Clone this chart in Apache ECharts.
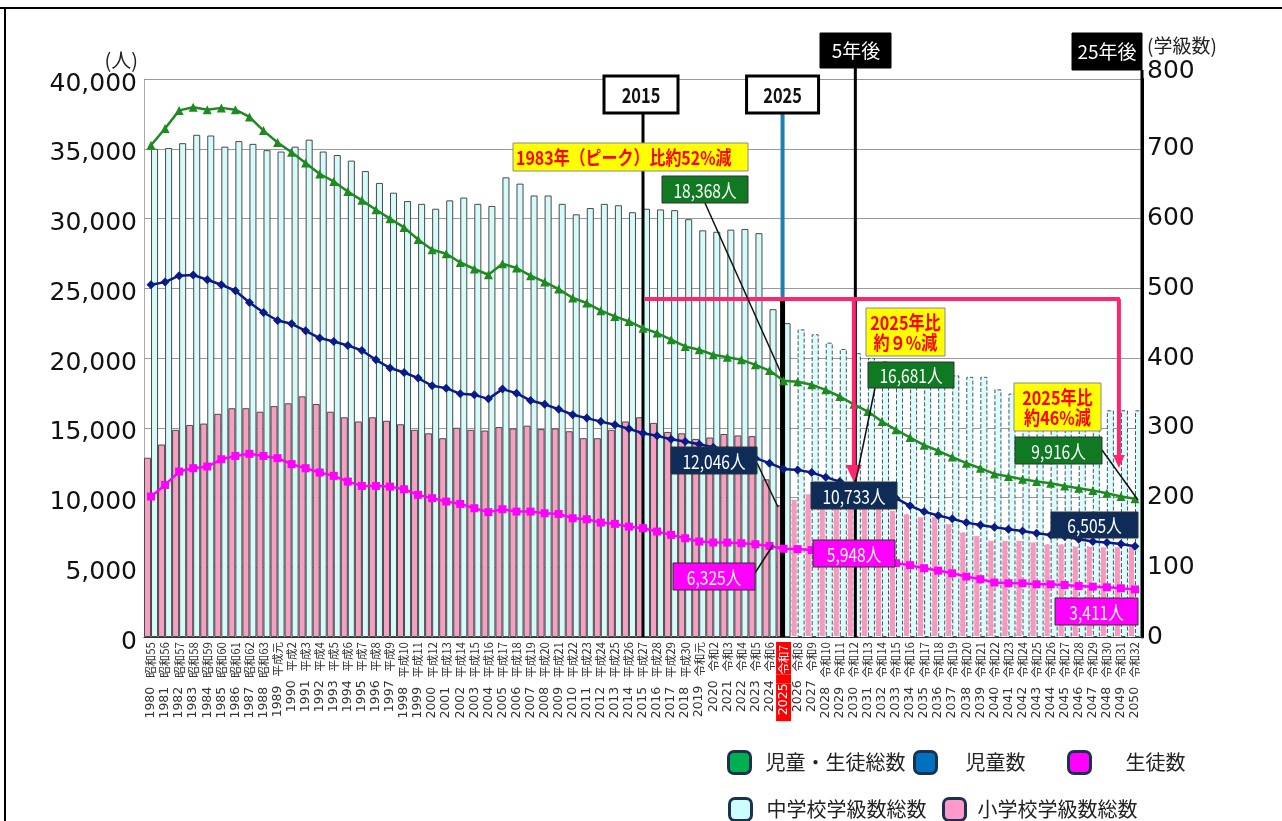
<!DOCTYPE html>
<html><head><meta charset="utf-8">
<script src="https://cdn.jsdelivr.net/npm/echarts@6/dist/echarts.min.js"></script>
<style>html,body{margin:0;padding:0;background:#fff}#c{width:1282px;height:821px}</style>
</head><body><div id="c"></div>
<script>
const years = ['1980','1981','1982','1983','1984','1985','1986','1987','1988','1989',
'1990','1991','1992','1993','1994','1995','1996','1997','1998','1999',
'2000','2001','2002','2003','2004','2005','2006','2007','2008','2009',
'2010','2011','2012','2013','2014','2015','2016','2017','2018','2019',
'2020','2021','2022','2023','2024','2025','2026','2027','2028','2029',
'2030','2031','2032','2033','2034','2035','2036','2037','2038','2039',
'2040','2041','2042','2043','2044','2045','2046','2047','2048','2049','2050'];
const eras = ['昭和55','昭和56','昭和57','昭和58','昭和59','昭和60','昭和61','昭和62','昭和63','平成元',
'平成2','平成3','平成4','平成5','平成6','平成7','平成8','平成9','平成10','平成11',
'平成12','平成13','平成14','平成15','平成16','平成17','平成18','平成19','平成20','平成21',
'平成22','平成23','平成24','平成25','平成26','平成27','平成28','平成29','平成30','令和元',
'令和2','令和3','令和4','令和5','令和6','令和7','令和8','令和9','令和10','令和11',
'令和12','令和13','令和14','令和15','令和16','令和17','令和18','令和19','令和20','令和21',
'令和22','令和23','令和24','令和25','令和26','令和27','令和28','令和29','令和30','令和31','令和32'];
// 児童・生徒総数
const totalStudents = [35250,36450,37750,37970,37800,37930,37800,37280,36300,35450,
34750,33980,33190,32660,31940,31300,30630,29990,29360,28500,
27760,27470,26850,26380,25970,26760,26450,25900,25450,24940,
24300,23940,23390,22980,22620,22140,21790,21310,20830,20590,
20230,20060,19870,19510,19100,18368,18300,18080,17720,17240,
16681,16160,15450,14850,14300,13750,13350,12900,12460,12100,
11690,11500,11310,11140,11020,10830,10660,10500,10310,10070,9916];
// 児童数
const elemStudents = [25250,25440,25900,25950,25610,25250,24820,23980,23260,22690,
22450,21950,21430,21180,20900,20540,19870,19280,18960,18560,
18010,17840,17430,17360,17070,17770,17480,16950,16680,16330,
15930,15690,15440,15210,14920,14610,14420,14180,14010,13820,
13600,13410,13180,12820,12460,12046,11980,11790,11460,11140,
10733,10590,10350,9950,9400,8990,8710,8470,8200,8030,
7870,7720,7600,7440,7320,7200,7010,6840,6770,6670,6505];
// 生徒数
const juniorStudents = [10070,10900,11860,12100,12220,12740,12980,13130,12980,12820,
12390,12100,11790,11550,11140,10830,10830,10780,10590,10190,
9950,9710,9540,9230,8950,9160,8990,8990,8870,8820,
8510,8440,8200,8110,7910,7800,7560,7320,7080,6840,
6770,6770,6720,6650,6530,6325,6300,6230,6140,6050,
5948,5720,5500,5290,5150,4930,4760,4570,4330,4140,
3900,3850,3850,3780,3780,3730,3660,3610,3560,3490,3411];
// 中学校学級数総数 (cyan bars)
const juniorClasses = [700,701,708,720,719,703,711,707,698,696,
703,713,696,691,683,668,651,637,625,621,
614,626,630,621,618,659,650,633,633,621,
606,615,621,619,609,614,613,612,599,583,
581,584,585,579,470,450,441,434,422,413,
407,400,395,390,385,380,378,375,373,373,
355,349,345,340,338,335,330,328,325,325,325];
// 小学校学級数総数 (pink bars)
const elemClasses = [257,276,297,304,306,320,328,328,323,331,
335,345,334,323,315,309,315,310,305,297,
292,285,300,297,296,301,299,303,298,299,
295,285,285,297,309,315,307,294,292,284,
286,291,289,288,226,189,198,206,205,203,
198,192,188,182,177,173,173,163,151,146,
139,139,139,137,134,134,131,131,130,130,130];
const leftTicks = [0,5000,10000,15000,20000,25000,30000,35000,40000];
const lastActualYear = '2025';

const CJK = "'Noto Sans CJK JP', sans-serif";
const futureIdx = years.indexOf(lastActualYear);

const cyanData = juniorClasses.map((v,i)=> i>futureIdx ? {value:v, itemStyle:{color:'#dffcfc', borderColor:'#3c5862', borderType:'dashed', borderWidth:1}} : v);
const pinkData = elemClasses.map((v,i)=> i>futureIdx ? {value:v, itemStyle:{color:'#f39bbf', borderColor:'#ffffff', borderType:'dashed', borderWidth:1}} : v);

const chart = echarts.init(document.getElementById('c'), null, {renderer:'canvas'});

function legendCfg(name, color, left, top, gap){
  return {
    left:left, top:top, padding:0, icon:'roundRect', itemWidth:22, itemHeight:22,
    selectedMode:false,
    textStyle:{fontFamily:CJK, fontSize:20, color:'#222', padding:[0,0,0,gap]},
    data:[{name:name, itemStyle:{color:color, borderColor:'#1c3150', borderWidth:3}}]
  };
}

const option = {
  animation:false,
  backgroundColor:'#fff',
  grid:{left:144, right:140, top:79, bottom:184, containLabel:false, outerBoundsMode:'none'},
  legend:[
    legendCfg('児童・生徒総数','#00b050',727,750,10),
    legendCfg('児童数','#0070c0',913,750,24),
    legendCfg('生徒数','#ff00ff',1067,750,30),
    legendCfg('中学校学級数総数','#ccffff',728,797,10),
    legendCfg('小学校学級数総数','#ff99cc',942,797,7)
  ],
  xAxis:{
    type:'category', data:years, boundaryGap:true,
    axisTick:{show:false},
    axisLine:{lineStyle:{color:'#333', width:1}},
    axisLabel:{
      interval:0, rotate:90, margin:5,
      formatter:function(v, idx){
        const e = eras[years.indexOf(v)];
        if (v === lastActualYear) return '{ry|'+v+'}{rg|}{re|'+e+'}';
        return '{y|'+v+'}{g|}{e|'+e+'}';
      },
      rich:{
        y:{fontFamily:'DejaVu Sans', fontSize:12.5, color:'#333'},
        g:{width:9},
        e:{fontFamily:CJK, fontSize:11.5, color:'#333'},
        ry:{fontFamily:'DejaVu Sans', fontSize:12.5, color:'#fff', backgroundColor:'#ff0000', height:15, padding:[0,0,0,6]},
        rg:{width:9, backgroundColor:'#ff0000', height:15},
        re:{fontFamily:CJK, fontSize:11.5, color:'#fff', backgroundColor:'#ff0000', height:15, padding:[0,3,0,0]}
      }
    }
  },
  yAxis:[
    {type:'value', min:0, max:40000, interval:5000,
     axisLine:{show:true, lineStyle:{color:'#aaa', width:1}},
     axisTick:{show:false}, splitLine:{show:false},
     axisLabel:{margin:7, color:'#111',
       formatter:function(v){return '{a|'+v.toLocaleString('en-US')+'}';},
       rich:{a:{fontFamily:'DejaVu Sans', fontSize:25, color:'#111', padding:[10,0,0,0]}}}
    },
    {type:'value', min:0, max:800, interval:100,
     axisLine:{show:true, lineStyle:{color:'#000', width:3}},
     axisTick:{show:false}, splitLine:{show:false},
     axisLabel:{margin:5, fontFamily:'DejaVu Sans', fontSize:25, color:'#111',
       formatter:function(v){return v===800 ? '{t|800}' : String(v);},
       rich:{t:{fontFamily:'DejaVu Sans', fontSize:25, color:'#111', padding:[0,0,16,0]}}}
    }
  ],
  series:[
    {name:'小学校学級数総数', type:'bar', yAxisIndex:1, data:pinkData, z:1,
     barGap:'0%', barCategoryGap:'0%',
     itemStyle:{color:'#f4a0c2', borderColor:'#4a4a4a', borderWidth:1}},
    {name:'中学校学級数総数', type:'bar', yAxisIndex:1, data:cyanData, z:1,
     barGap:'0%', barCategoryGap:'0%',
     itemStyle:{color:'#d4fafa', borderColor:'#4a4a4a', borderWidth:1}},
    {name:'grid', type:'line', data:[], z:1, silent:true,
     markLine:{silent:true, symbol:'none', z:1, animation:false, label:{show:false},
       lineStyle:{color:'#9a9a9a', width:1, type:'solid'},
       data:leftTicks.filter(v=>v>0).map(v=>({yAxis:v}))}},
    {name:'児童・生徒総数', type:'line', data:totalStudents, z:4,
     symbol:'triangle', symbolSize:9, showAllSymbol:true,
     lineStyle:{color:'#1f8a22', width:2.5}, itemStyle:{color:'#1f8a22'}},
    {name:'児童数', type:'line', data:elemStudents, z:4,
     symbol:'diamond', symbolSize:9, showAllSymbol:true,
     lineStyle:{color:'#0a1a86', width:2.5}, itemStyle:{color:'#0a1a86'}},
    {name:'生徒数', type:'line', data:juniorStudents, z:4,
     symbol:'rect', symbolSize:8, showAllSymbol:true,
     lineStyle:{color:'#ff00ff', width:2.5}, itemStyle:{color:'#ff00ff'}}
  ]
};
chart.setOption(option);

const xOf = c => chart.convertToPixel({xAxisIndex:0}, c);
const yOf = v => chart.convertToPixel({yAxisIndex:0}, v);
const x2015 = xOf('2015'), x2025 = xOf('2025'), x2030 = xOf('2030'), x2049 = xOf('2049');
const yBase = yOf(0);
const xRight = 1282 - 140;
const PINK = '#ff2670';

function line(x1,y1,x2,y2,color,w,z){return {type:'line', z:z||3, silent:true, shape:{x1,y1,x2,y2}, style:{stroke:color, lineWidth:w}};}
function box(x,y,w,h,fill,stroke,lw){return {type:'rect', z:10, silent:true, shape:{x,y,width:w,height:h}, style:{fill:fill, stroke:stroke, lineWidth:lw}};}
function txt(x,y,text,color,font,sx,align,lh){
  return {type:'text', z:11, silent:true, x:x, y:y, scaleX:sx||1,
    style:{x:0,y:0,text:text, fill:color, font:font, textAlign:align||'center', align:align||'center',
      textVerticalAlign:'middle', verticalAlign:'middle', lineHeight:lh||undefined}};
}
function label(x,y,w,h,fill,text){
  return [box(x,y,w,h,fill,'#333',1), txt(x+w/2, y+h/2+1, text, '#fff', "19px "+CJK, 0.82)];
}
function yellow(x,y,w,h,text,lh){
  return [box(x,y,w,h,'#ffff00','#8a8a8a',1), txt(x+w/2, y+h/2+1, text, '#ff0000', "bold 19px "+CJK, 0.85, 'center', lh)];
}

const G = [];
// frame
G.push(line(5,8,5,821,'#000',2,12));
G.push(line(0,8,1282,8,'#000',2,12));
// axis units
G.push(txt(138,60,'(人)','#222',"20px "+CJK,1,'right'));
G.push(txt(1147,46,'(学級数)','#222',"19px "+CJK,1,'left'));
// vertical marker lines
G.push(line(x2015,113,x2015,yBase,'#000',3,3));
G.push(line(x2025-1,113,x2025-1,300,'#1f7fb3',4,3));
G.push(line(x2025-1,300,x2025-1,yBase,'#000',5,3));
G.push(line(x2030+1.5,68,x2030+1.5,yBase,'#000',3,3));
G.push(line(xRight,70,xRight,yBase,'#000',3,3));
// pink bracket + arrows
G.push(line(x2015+2,299,x2049-1,299,PINK,4,6));
G.push(line(x2030,299,x2030,468,PINK,4,6));
G.push({type:'polygon', z:6, silent:true, shape:{points:[[x2030-8,465],[x2030+8,465],[x2030,482]]}, style:{fill:PINK}});
G.push(line(x2049-2,299,x2049-2,458,PINK,4,6));
G.push({type:'polygon', z:6, silent:true, shape:{points:[[x2049-8,455],[x2049+4,455],[x2049-2,468]]}, style:{fill:PINK}});
// year boxes
G.push(box(x2015-39,76,74,37,'#fff','#000',3));
G.push(txt(x2015-2,95,'2015','#111',"bold 21px "+CJK,0.78));
G.push(box(x2025-37,76,72,37,'#fff','#000',3));
G.push(txt(x2025-1,95,'2025','#111',"bold 21px "+CJK,0.78));
G.push(box(820,33,71,35,'#000','#000',1));
G.push(txt(856,51,'5年後','#fff',"19px "+CJK,1));
G.push(box(1072,33,70,37,'#000','#000',1));
G.push(txt(1107,52,'25年後','#fff',"19px "+CJK,1));
// leader lines
G.push(line(705,203,781,373,'#111',1.5,9));
G.push(line(875,388,856,480,'#111',1.5,9));
G.push(line(757,463,778,507,'#111',1.5,9));
G.push(line(755,573,773,545,'#111',1.5,9));
G.push(line(1102,450,1138,500,'#111',1.5,9));
// yellow notes
G.push(box(513,143,235,28,'#ffff00','#8a8a8a',1));
G.push(txt(516,158,'1983年（ピーク）比約52%減','#ff0000',"bold 19px "+CJK,0.84,'left'));
G.push(...yellow(866,308,79,48,'2025年比\n約９%減',19.5));
G.push(...yellow(1014,383,87,48,'2025年比\n約46%減',19.5));
// value labels
const GREEN='#0f7a22', NAVY='#0e2c57', MAG='#ff00ff';
G.push(...label(662,176,86,27,GREEN,'18,368人'));
G.push(...label(868,362,86,26,GREEN,'16,681人'));
G.push(...label(1015,437,87,27,GREEN,'9,916人'));
G.push(...label(671,447,86,27,NAVY,'12,046人'));
G.push(...label(811,482,86,27,NAVY,'10,733人'));
G.push(...label(1051,512,87,26,NAVY,'6,505人'));
G.push(...label(673,563,82,27,MAG,'6,325人'));
G.push(...label(813,540,82,27,MAG,'5,948人'));
G.push(...label(1055,598,83,27,MAG,'3,411人'));

chart.setOption({graphic:{elements:G}});
</script></body></html>
